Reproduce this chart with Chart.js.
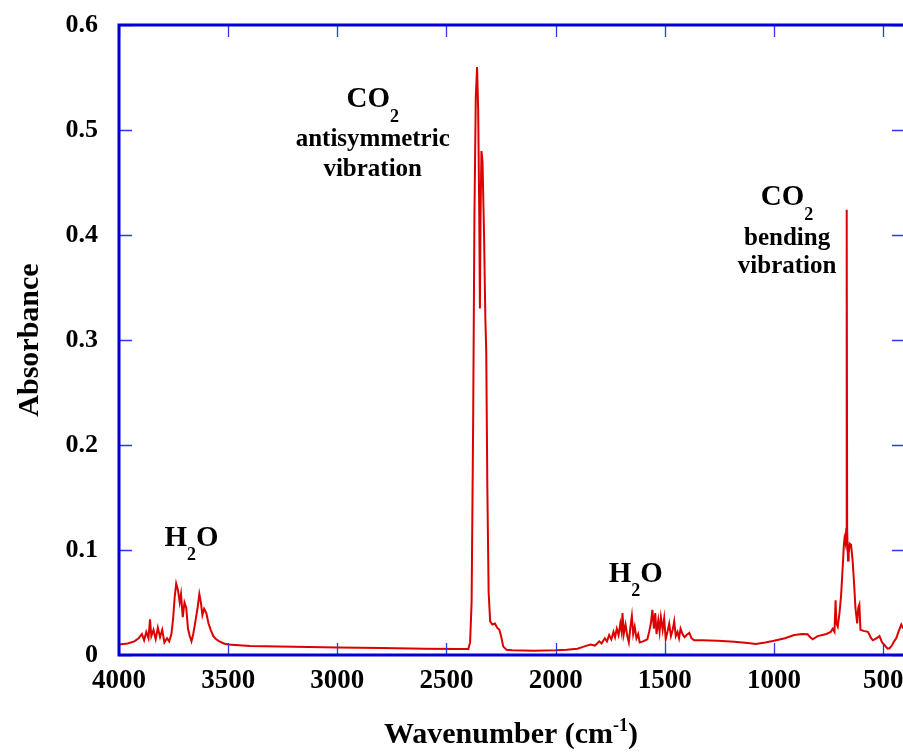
<!DOCTYPE html>
<html>
<head>
<meta charset="utf-8">
<title>Absorbance spectrum</title>
<script src="https://cdn.jsdelivr.net/npm/chart.js@4.4.0/dist/chart.umd.min.js"></script>
<style>
    html, body { margin: 0; padding: 0; background: #fff; overflow: hidden; }
    #wrap { width: 903px; height: 756px; overflow: hidden; }
</style>
</head>
<body>
<div id="wrap"><canvas id="chart" width="912" height="756"></canvas></div>
<script>
// spectrum points, wavenumber (cm-1) and absorbance
const wavenumber = [
    4000, 3960, 3930, 3910, 3895, 3885, 3875, 3865, 3858, 3852, 3842, 3832, 3822, 3812, 3802, 3792,
    3780, 3770, 3760, 3752, 3745, 3738, 3730, 3722, 3716, 3708, 3700, 3692, 3684, 3676, 3668, 3660,
    3650, 3640, 3632, 3625, 3618, 3610, 3600, 3590, 3580, 3568, 3555, 3540, 3520, 3500, 3400, 3200,
    3000, 2800, 2600, 2450, 2400, 2392, 2385, 2378, 2372, 2366, 2360, 2355, 2350, 2347, 2344, 2340,
    2335, 2328, 2322, 2318, 2313, 2307, 2300, 2290, 2278, 2268, 2258, 2250, 2240, 2225, 2200, 2100,
    2000, 1950, 1900, 1872, 1840, 1820, 1800, 1790, 1775, 1765, 1755, 1745, 1735, 1728, 1720, 1712,
    1704, 1698, 1694, 1688, 1680, 1672, 1665, 1658, 1651, 1645, 1638, 1630, 1622, 1615, 1600, 1590,
    1580, 1572, 1564, 1557, 1550, 1544, 1538, 1530, 1524, 1518, 1510, 1503, 1496, 1488, 1480, 1472,
    1464, 1457, 1450, 1442, 1435, 1428, 1419, 1410, 1400, 1388, 1378, 1366, 1330, 1258, 1182, 1120,
    1083, 1040, 1000, 950, 907, 870, 846, 835, 823, 800, 760, 740, 731, 723, 718, 714,
    708, 700, 693, 685, 680, 677, 672, 669, 667, 665, 661, 658, 653, 647, 640, 634,
    627, 619, 614, 609, 604, 590, 570, 555, 547, 530, 517, 505, 494, 480, 471, 460,
    450, 440, 430, 417, 410, 400
];
const absorbance = [
    0.010, 0.011, 0.013, 0.016, 0.020, 0.014, 0.022, 0.016, 0.034, 0.018, 0.024, 0.015, 0.026, 0.017, 0.024, 0.012,
    0.016, 0.013, 0.020, 0.035, 0.055, 0.068, 0.062, 0.050, 0.058, 0.036, 0.050, 0.045, 0.025, 0.018, 0.013, 0.020,
    0.032, 0.045, 0.058, 0.050, 0.038, 0.044, 0.040, 0.030, 0.024, 0.018, 0.015, 0.013, 0.011, 0.010, 0.0085, 0.0078,
    0.0072, 0.0066, 0.0060, 0.0057, 0.0058, 0.012, 0.05, 0.22, 0.42, 0.53, 0.56, 0.52, 0.42, 0.33, 0.42, 0.48,
    0.47, 0.40, 0.32, 0.29, 0.16, 0.06, 0.032, 0.029, 0.030, 0.026, 0.024, 0.018, 0.008, 0.005, 0.0045, 0.004,
    0.0045, 0.005, 0.006, 0.008, 0.010, 0.009, 0.013, 0.011, 0.016, 0.013, 0.019, 0.015, 0.022, 0.017, 0.025, 0.019,
    0.030, 0.022, 0.040, 0.020, 0.029, 0.018, 0.012, 0.026, 0.037, 0.020, 0.027, 0.016, 0.020, 0.012, 0.013, 0.014,
    0.015, 0.022, 0.030, 0.043, 0.025, 0.040, 0.020, 0.033, 0.022, 0.036, 0.024, 0.035, 0.015, 0.022, 0.030, 0.018,
    0.024, 0.032, 0.018, 0.022, 0.016, 0.025, 0.020, 0.017, 0.019, 0.021, 0.016, 0.014, 0.014, 0.0136, 0.0127, 0.0115,
    0.0105, 0.012, 0.0136, 0.016, 0.019, 0.020, 0.0197, 0.017, 0.015, 0.018, 0.020, 0.022, 0.025, 0.022, 0.052, 0.030,
    0.027, 0.040, 0.056, 0.085, 0.105, 0.111, 0.106, 0.12, 0.424, 0.12, 0.090, 0.097, 0.106, 0.105, 0.090, 0.071,
    0.045, 0.030, 0.045, 0.048, 0.024, 0.023, 0.022, 0.016, 0.014, 0.016, 0.018, 0.012, 0.0095, 0.006, 0.0064, 0.009,
    0.013, 0.016, 0.022, 0.029, 0.026, 0.024
];
const xTicks = [4000, 3500, 3000, 2500, 2000, 1500, 1000, 500];
const yTicks = [0, 0.1, 0.2, 0.3, 0.4, 0.5, 0.6];

// band labels, anchored at (wavenumber, absorbance) of the first line's baseline
const bands = [
    { wn: 2838, abs: 0.522, lines: [
        [{ t: 'CO', s: 29 }, { t: '2', s: 18, dy: 15 }],
        [{ t: 'antisymmetric', s: 25, dy: 39 }],
        [{ t: 'vibration', s: 25, dy: 69 }] ] },
    { wn: 940, abs: 0.4286, lines: [
        [{ t: 'CO', s: 29 }, { t: '2', s: 18, dy: 15 }],
        [{ t: 'bending', s: 25, dy: 40 }],
        [{ t: 'vibration', s: 25, dy: 68 }] ] },
    { wn: 3668, abs: 0.104, lines: [
        [{ t: 'H', s: 29 }, { t: '2', s: 18, dy: 14 }, { t: 'O', s: 29 }] ] },
    { wn: 1633, abs: 0.0695, lines: [
        [{ t: 'H', s: 29 }, { t: '2', s: 18, dy: 14 }, { t: 'O', s: 29 }] ] }
];

const SERIF = '"Liberation Serif", "Times New Roman", serif';

// draws a run of text pieces (with sub/superscripts) centred on cx
function drawRun(ctx, parts, cx, base) {
    let w = 0;
    parts.forEach(p => { ctx.font = 'bold ' + p.s + 'px ' + SERIF; w += ctx.measureText(p.t).width; });
    let x = cx - w / 2;
    parts.forEach(p => {
        ctx.font = 'bold ' + p.s + 'px ' + SERIF;
        ctx.fillText(p.t, x, base + (p.shift || 0));
        x += ctx.measureText(p.t).width;
    });
}

const framePlugin = {
    id: 'frame',
    afterDraw(chart) {
        const { ctx, chartArea: a, scales: { x, y } } = chart;
        ctx.save();

        // inward tick marks on all four sides
        ctx.strokeStyle = '#2a3ae8';
        ctx.lineWidth = 1.3;
        ctx.beginPath();
        xTicks.forEach(v => {
            const px = Math.round(x.getPixelForValue(v)) + 0.5;
            ctx.moveTo(px, a.bottom); ctx.lineTo(px, a.bottom - 12);
            ctx.moveTo(px, a.top); ctx.lineTo(px, a.top + 12);
        });
        yTicks.forEach(v => {
            const py = Math.round(y.getPixelForValue(v)) + 0.5;
            ctx.moveTo(a.left, py); ctx.lineTo(a.left + 13, py);
            ctx.moveTo(a.right, py); ctx.lineTo(a.right - 13, py);
        });
        ctx.stroke();

        ctx.strokeStyle = '#0000d4';
        ctx.lineWidth = 3;
        ctx.strokeRect(a.left, a.top, a.right - a.left, a.bottom - a.top);

        // band labels
        ctx.fillStyle = '#000';
        ctx.textBaseline = 'alphabetic';
        bands.forEach(b => {
            const cx = x.getPixelForValue(b.wn);
            const base = y.getPixelForValue(b.abs);
            b.lines.forEach(line => {
                const dy = line.length === 1 ? (line[0].dy || 0) : 0;
                const parts = line.map(p => ({ t: p.t, s: p.s, shift: line.length > 1 ? (p.dy || 0) : 0 }));
                drawRun(ctx, parts, cx, base + dy);
            });
        });

        // axis titles
        drawRun(ctx, [{ t: 'Wavenumber (cm', s: 30 }, { t: '-1', s: 18, shift: -12 }, { t: ')', s: 30 }],
            (a.left + 903) / 2, 743);
        ctx.translate(38, (a.top + a.bottom) / 2);
        ctx.rotate(-Math.PI / 2);
        drawRun(ctx, [{ t: 'Absorbance', s: 30 }], 0, 0);
        ctx.restore();
    }
};

const chart = new Chart(document.getElementById('chart'), {
    type: 'line',
    data: {
        datasets: [{
            data: wavenumber.map((w, i) => ({ x: w, y: absorbance[i] })),
            borderColor: '#dd0000',
            borderWidth: 2,
            pointRadius: 0,
            tension: 0
        }]
    },
    options: {
        responsive: false,
        animation: false,
        layout: { padding: { top: 25, right: 7, left: 0, bottom: 0 } },
        plugins: { legend: { display: false }, tooltip: { enabled: false } },
        scales: {
            x: {
                type: 'linear',
                reverse: true,
                min: 400,
                max: 4000,
                afterFit: s => { s.height = 101; s.paddingLeft = 0; s.paddingRight = 0; },
                afterBuildTicks: s => { s.ticks = xTicks.map(v => ({ value: v })); },
                grid: { display: false, drawTicks: false },
                border: { display: false },
                ticks: {
                    padding: 10,
                    maxRotation: 0,
                    autoSkip: false,
                    color: '#000',
                    font: { family: SERIF, size: 27, weight: 'bold' },
                    callback: v => String(v)
                }
            },
            y: {
                min: 0,
                max: 0.6,
                afterFit: s => { s.width = 119; s.paddingTop = 0; s.paddingBottom = 0; },
                afterBuildTicks: s => { s.ticks = yTicks.map(v => ({ value: v })); },
                grid: { display: false, drawTicks: false },
                border: { display: false },
                ticks: {
                    padding: 21,
                    color: '#000',
                    font: { family: SERIF, size: 26, weight: 'bold' },
                    callback: v => v === 0 ? '0' : v.toFixed(1)
                }
            }
        }
    },
    plugins: [framePlugin]
});
</script>
</body>
</html>
